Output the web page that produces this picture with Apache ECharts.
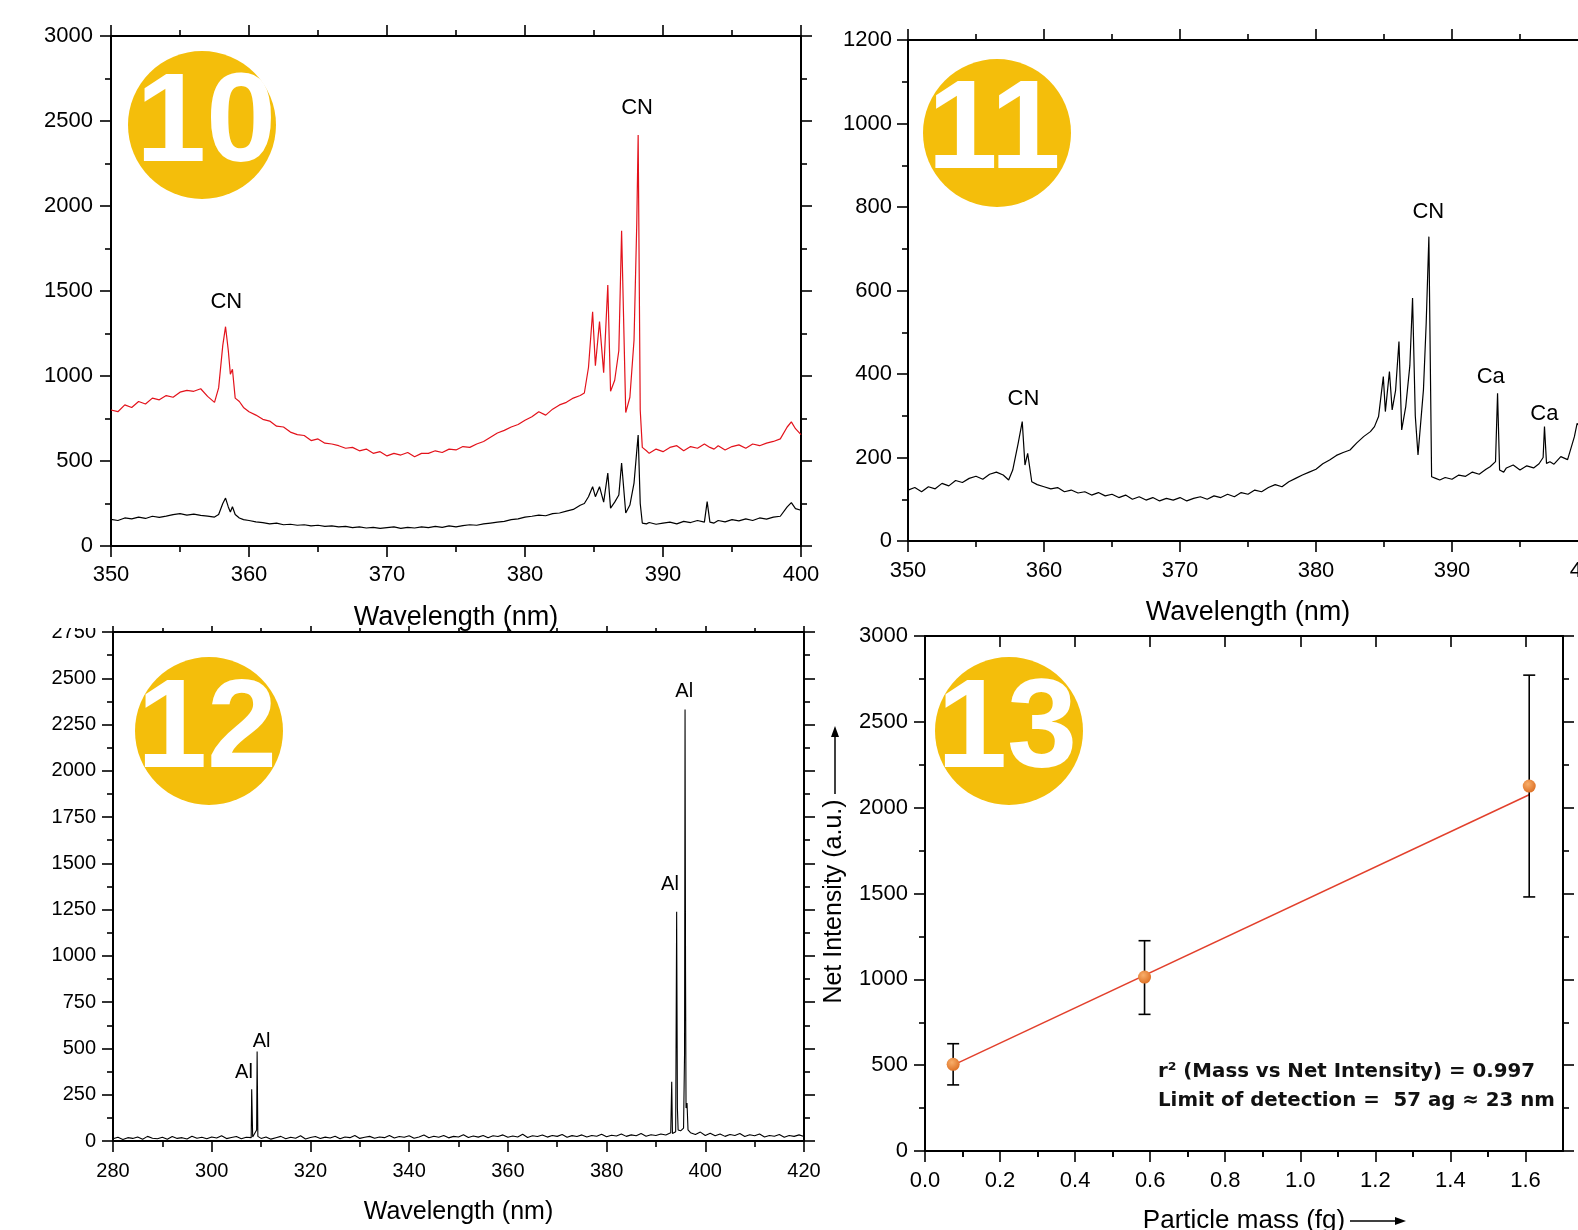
<!DOCTYPE html>
<html><head><meta charset="utf-8">
<script src="https://cdn.jsdelivr.net/npm/echarts@6/dist/echarts.min.js"></script>
<style>html,body{margin:0;padding:0;background:#fff}#c{width:1578px;height:1230px}</style>
</head><body><div id="c"></div>
<script>
// ---------- Panel 10: two spectra (red / black) ----------
const wl10 = [350,350.5,351,351.5,352,352.5,353,353.5,354,354.5,355,355.5,356,356.5,357,357.5,
  357.8,358.1,358.3,358.5,358.65,358.8,359,359.3,359.6,
  360,360.5,361,361.5,362,362.5,363,363.5,364,364.5,365,365.5,366,366.5,367,367.5,368,368.5,369,369.5,
  370,370.5,371,371.5,372,372.5,373,373.5,374,374.5,375,375.5,376,376.5,377,377.5,378,378.5,379,379.5,
  380,380.5,381,381.5,382,382.5,383,383.5,384,
  384.3,384.6,384.9,385.1,385.4,385.7,386,386.2,386.5,386.8,387,387.3,387.6,387.9,388.1,388.2,388.35,388.5,388.8,
  389,389.5,390,390.5,391,391.5,392,392.5,393,393.2,393.4,393.7,394,394.5,395,395.5,396,396.5,397,397.5,398,398.5,399,399.3,399.6,400];
const red10 = [800,790,830,815,850,835,870,860,885,875,905,915,910,925,880,845,
  930,1180,1290,1150,1010,1040,870,850,815,
  790,770,745,735,705,700,670,655,650,620,630,605,600,590,575,580,560,570,545,555,
  530,545,535,550,525,545,545,560,550,570,565,585,580,600,615,640,665,680,700,715,
  740,760,790,770,805,830,845,870,885,
  900,1050,1378,1060,1320,1020,1535,910,975,1150,1855,785,875,1210,1900,2418,800,580,560,
  545,570,555,580,590,560,585,575,600,590,580,570,590,565,585,595,575,600,590,605,615,630,700,730,690,655];
const black10 = [157,150,165,160,170,162,175,168,176,185,190,182,188,180,176,170,
  185,250,282,230,200,231,185,165,155,
  150,142,138,130,135,125,128,122,125,118,122,115,118,112,115,108,112,106,110,104,
  108,112,104,110,106,112,108,115,110,118,112,120,125,122,130,135,140,145,155,160,
  170,175,182,178,190,194,205,215,240,
  250,290,349,290,349,258,429,223,258,300,488,194,241,370,560,653,250,135,130,
  138,128,135,140,130,145,138,150,140,261,140,135,150,142,155,148,160,150,165,158,170,175,230,255,220,210];
const labelText10 = ['CN','CN'];
const labelWl10 = [358.36, 388.12];
const labelInt10 = [1435, 2574];

// ---------- Panel 11 ----------
const wl11 = [350,350.5,351,351.5,352,352.5,353,353.5,354,354.5,355,355.5,356,356.5,357,
  357.4,357.7,358.1,358.4,358.6,358.8,359.1,359.5,
  360,360.5,361,361.5,362,362.5,363,363.5,364,364.5,365,365.5,366,366.5,367,367.5,368,368.5,369,369.5,
  370,370.5,371,371.5,372,372.5,373,373.5,374,374.5,375,375.5,376,376.5,377,377.5,378,378.5,379,379.5,
  380,380.5,381,381.5,382,382.5,383,383.5,384,
  384.3,384.6,384.95,385.1,385.4,385.6,385.85,386.1,386.3,386.6,386.9,387.1,387.3,387.5,387.9,388.1,388.3,388.5,388.8,
  389.1,389.5,390,390.5,391,391.5,392,392.5,392.8,393.2,393.35,393.5,393.8,394,394.5,395,395.5,396,396.4,396.7,396.8,396.95,397.2,397.5,398,398.5,399,399.2,399.5,400];
const int11 = [122,128,118,130,125,138,132,145,140,150,155,148,160,165,158,
  146,170,234,286,182,210,142,135,
  130,125,128,118,122,115,118,110,116,108,112,104,110,100,106,98,104,96,102,98,
  104,96,102,106,100,108,104,112,106,116,112,122,118,128,135,130,142,150,158,165,
  172,185,194,205,212,218,235,250,262,
  274,298,394,310,406,314,360,478,266,322,420,582,300,206,362,520,729,154,150,
  146,152,148,158,155,165,160,172,178,190,354,170,165,175,182,170,180,175,185,200,274,186,190,184,202,195,250,282,270,290];
const labelText11 = ['CN','CN','Ca','Ca'];
const labelWl11 = [358.49, 388.26, 392.85, 396.79];
const labelInt11 = [341, 789, 392, 304];

// ---------- Panel 12 ----------
const wl12 = [280,281,282,283,284,285,286,287,288,289,290,291,292,293,294,295,296,297,298,299,300,301,302,303,304,305,306,307,
  308,308.1,308.3,308.7,309.1,309.2,309.35,
  310,311,312,313,314,315,316,317,318,319,320,321,322,323,324,325,326,327,328,329,
  330,331,332,333,334,335,336,337,338,339,340,341,342,343,344,345,346,347,348,349,
  350,351,352,353,354,355,356,357,358,359,360,361,362,363,364,365,366,367,368,369,
  370,371,372,373,374,375,376,377,378,379,380,381,382,383,384,385,386,387,388,389,
  390,391,392,393,
  393.2,393.35,394,394.2,394.35,394.5,395,395.6,395.8,395.9,396,396.1,396.3,396.5,
  397,398,399,400,401,402,403,404,405,406,407,408,409,410,411,412,413,414,415,416,417,418,419,420];
const int12 = [12,20,8,18,14,22,10,25,15,12,20,9,24,14,18,11,26,15,20,12,22,16,28,13,19,24,12,20,
  18,279,22,30,60,483,25,
  14,22,10,18,25,12,20,15,28,11,19,24,13,21,16,26,12,22,18,30,
  14,20,25,15,22,18,30,16,24,20,28,15,22,32,18,26,20,30,17,25,
  22,34,19,27,21,30,18,28,24,33,20,27,22,36,19,28,24,32,21,30,
  25,35,20,29,24,33,22,30,26,36,23,31,27,38,25,33,28,40,26,34,
  30,38,32,45,
  320,40,50,1238,178,60,55,70,475,2331,914,178,205,60,
  45,35,48,30,42,28,38,25,35,30,40,24,34,28,38,22,30,26,35,20,30,25,33,24];
const labelText12 = ['Al','Al','Al','Al'];
const labelWl12 = [306.54, 310.12, 392.84, 395.74];
const labelInt12 = [369, 536, 1388, 2426];

// ---------- Panel 13 ----------
const mass13 = [0.075, 0.585, 1.61];
const net13 = [505, 1013, 2126];
const errLow13 = [385, 796, 1480];
const errHigh13 = [625, 1225, 2772];
const fitMass13 = [0.075, 1.61];
const fitNet13 = [500, 2075];
const xMajor13 = [0, 0.2, 0.4, 0.6, 0.8, 1.0, 1.2, 1.4, 1.6];
const xMinor13 = [0.1, 0.3, 0.5, 0.7, 0.9, 1.1, 1.3, 1.5];
const noteLines13 = ['r\u00B2 (Mass vs Net Intensity) = 0.997', 'Limit of detection =  57 ag \u2248 23 nm'];
const badgeTexts = ['10', '11', '12', '13'];

// ---------- helpers ----------
const FONT = '"Liberation Sans", Arial, Helvetica, sans-serif';
const INK = '#000';
const zip = (a, b) => a.map((v, i) => [v, b[i]]);

function makeAxes(kind, g, o) {
  const isX = kind === 'x';
  const common = {
    type: 'value', gridIndex: g, min: o.min, max: o.max, interval: o.interval,
    splitLine: {show: false}, minorSplitLine: {show: false},
    axisLine: {show: true, onZero: false, lineStyle: {color: INK, width: 2}}
  };
  const tick = (inside, len) => Object.assign({show: true, inside: inside, length: len,
      lineStyle: {color: INK, width: 1.6}}, o.majorValues ? {customValues: o.majorValues} : {});
  const minor = (len) => o.noMinor ? {show: false} :
      {show: true, splitNumber: 2, length: len, lineStyle: {color: INK, width: 1.6}};
  const primary = Object.assign({}, common, {
    position: isX ? 'bottom' : 'left',
    axisTick: tick(false, o.tickLen || 11),
    minorTick: minor(o.minorLen || 6),
    axisLabel: Object.assign({show: true, margin: o.margin, color: INK, fontSize: o.fontSize,
      fontFamily: FONT, formatter: o.fmt || (v => String(v))},
      o.majorValues ? {customValues: o.majorValues} : {}),
    name: o.name || '', nameLocation: 'middle', nameGap: o.nameGap || 0,
    nameTextStyle: {fontSize: o.nameSize || 26, color: INK, fontFamily: FONT, padding: o.namePad || 0}
  });
  const mirror = Object.assign({}, common, {
    position: isX ? 'top' : 'right',
    axisTick: tick(!!o.mirrorInside, o.mirrorLen || o.tickLen || 11),
    minorTick: minor(o.mirrorMinorLen || o.minorLen || 6),
    axisLabel: {show: false}
  });
  return [primary, mirror];
}

function labelSeries(xi, texts, xs, ys, size) {
  return {
    type: 'custom', xAxisIndex: xi, yAxisIndex: xi, silent: true, z: 5,
    data: zip(xs, ys),
    renderItem: (params, api) => {
      const p = api.coord([api.value(0), api.value(1)]);
      return {type: 'text', x: p[0], y: p[1], style: {text: texts[params.dataIndex],
        fill: INK, fontSize: size, fontFamily: FONT, align: 'center', verticalAlign: 'middle'}};
    }
  };
}

const xAxes = [].concat(
  makeAxes('x', 0, {min: 350, max: 400, interval: 10, margin: 18, fontSize: 22,
    name: 'Wavelength (nm)', nameGap: 58, nameSize: 27}),
  makeAxes('x', 1, {min: 350, max: 400, interval: 10, margin: 19, fontSize: 22,
    name: 'Wavelength (nm)', nameGap: 58, nameSize: 27}),
  makeAxes('x', 2, {min: 280, max: 420, interval: 20, margin: 20, fontSize: 20,
    name: 'Wavelength (nm)', nameGap: 59, nameSize: 25, mirrorLen: 6, mirrorMinorLen: 4}),
  makeAxes('x', 3, {min: 0, max: 1.7, interval: 0.2, margin: 19, fontSize: 22,
    name: 'Particle mass (fg)', nameGap: 57, nameSize: 26, majorValues: xMajor13, noMinor: true,
    mirrorInside: true, fmt: v => v.toFixed(1)}),
  [
    {type: 'value', gridIndex: 3, min: 0, max: 1.7, position: 'bottom', axisLine: {show: false},
     axisLabel: {show: false}, splitLine: {show: false},
     axisTick: {show: true, length: 6, customValues: xMinor13, lineStyle: {color: INK, width: 1.6}}},
    {type: 'value', gridIndex: 3, min: 0, max: 1.7, position: 'top', axisLine: {show: false},
     axisLabel: {show: false}, splitLine: {show: false},
     axisTick: {show: true, inside: true, length: 6, customValues: xMinor13, lineStyle: {color: INK, width: 1.6}}}
  ]
);
const yAxes = [].concat(
  makeAxes('y', 0, {min: 0, max: 3000, interval: 500, margin: 18, fontSize: 22}),
  makeAxes('y', 1, {min: 0, max: 1200, interval: 200, margin: 16, fontSize: 22}),
  makeAxes('y', 2, {min: 0, max: 2750, interval: 250, margin: 17, fontSize: 20}),
  makeAxes('y', 3, {min: 0, max: 3000, interval: 500, margin: 17, fontSize: 22,
    name: 'Net Intensity (a.u.)', nameGap: 78, nameSize: 25, namePad: [0, 16, 0, 0]})
);

const lineBase = {type: 'line', showSymbol: false, symbol: 'none', animation: false, silent: true};

const series = [
  Object.assign({}, lineBase, {xAxisIndex: 0, yAxisIndex: 0, data: zip(wl10, black10),
    lineStyle: {color: '#000', width: 1.2}}),
  Object.assign({}, lineBase, {xAxisIndex: 0, yAxisIndex: 0, data: zip(wl10, red10),
    lineStyle: {color: '#E3121B', width: 1.2}}),
  labelSeries(0, labelText10, labelWl10, labelInt10, 22),
  Object.assign({}, lineBase, {xAxisIndex: 2, yAxisIndex: 2, data: zip(wl11, int11),
    lineStyle: {color: '#000', width: 1.2}}),
  labelSeries(2, labelText11, labelWl11, labelInt11, 22),
  Object.assign({}, lineBase, {xAxisIndex: 4, yAxisIndex: 4, data: zip(wl12, int12),
    lineStyle: {color: '#000', width: 1.1}}),
  labelSeries(4, labelText12, labelWl12, labelInt12, 20),
  Object.assign({}, lineBase, {xAxisIndex: 6, yAxisIndex: 6, data: zip(fitMass13, fitNet13),
    lineStyle: {color: '#E2402C', width: 1.5}}),
  {
    type: 'custom', xAxisIndex: 6, yAxisIndex: 6, silent: true, z: 4,
    data: mass13.map((m, i) => [m, errLow13[i], errHigh13[i]]),
    encode: {x: 0, y: [1, 2]},
    renderItem: (params, api) => {
      const lo = api.coord([api.value(0), api.value(1)]);
      const hi = api.coord([api.value(0), api.value(2)]);
      const w = 6, st = {stroke: '#000', lineWidth: 1.6};
      return {type: 'group', children: [
        {type: 'line', shape: {x1: lo[0], y1: lo[1], x2: hi[0], y2: hi[1]}, style: st},
        {type: 'line', shape: {x1: lo[0] - w, y1: lo[1], x2: lo[0] + w, y2: lo[1]}, style: st},
        {type: 'line', shape: {x1: hi[0] - w, y1: hi[1], x2: hi[0] + w, y2: hi[1]}, style: st}
      ]};
    }
  },
  {
    type: 'scatter', xAxisIndex: 6, yAxisIndex: 6, silent: true, z: 6, symbolSize: 13,
    data: zip(mass13, net13),
    itemStyle: {opacity: 1, color: {type: 'radial', x: 0.4, y: 0.35, r: 0.7,
      colorStops: [{offset: 0, color: '#F8AE6A'}, {offset: 1, color: '#DC6E22'}]}}
  }
];

const badgePos = [[202, 125, 206, 126], [997, 133, 994, 133], [209, 731, 207, 732], [1009, 731, 1007, 732]];
const graphic = [
  {type: 'rect', shape: {x: 20, y: 590, width: 88, height: 38}, style: {fill: '#fff'}, z: 100}
];
badgeTexts.forEach((t, i) => {
  const b = badgePos[i];
  graphic.push({type: 'circle', shape: {cx: b[0], cy: b[1], r: 74}, style: {fill: '#F4BE0B'}, z: 50});
  graphic.push({type: 'text', x: b[2], y: b[3], z: 51, style: {text: t, fill: '#fff', fontSize: 126,
    fontWeight: 'bold', fontFamily: FONT, align: 'center', verticalAlign: 'middle'}});
});
noteLines13.forEach((t, i) => {
  graphic.push({type: 'text', x: 1158, y: 1072 + i * 29, z: 20, style: {text: t, fill: '#111',
    fontSize: 19.8, fontWeight: 'bold', fontFamily: '"DejaVu Sans", Verdana, sans-serif',
    align: 'left', verticalAlign: 'middle'}});
});
// axis-title arrows of panel 13
graphic.push({type: 'line', shape: {x1: 835, y1: 794, x2: 835, y2: 734}, style: {stroke: '#000', lineWidth: 1.5}, z: 20});
graphic.push({type: 'polygon', shape: {points: [[835, 726], [831, 737], [839, 737]]}, style: {fill: '#000'}, z: 20});
graphic.push({type: 'line', shape: {x1: 1350, y1: 1221, x2: 1398, y2: 1221}, style: {stroke: '#000', lineWidth: 1.5}, z: 20});
graphic.push({type: 'polygon', shape: {points: [[1406, 1221], [1395, 1217], [1395, 1225]]}, style: {fill: '#000'}, z: 20});

const chart = echarts.init(document.getElementById('c'), null, {renderer: 'canvas'});
const gridBase = {containLabel: false, outerBoundsMode: 'none'};
chart.setOption({
  animation: false,
  backgroundColor: '#fff',
  textStyle: {fontFamily: FONT},
  grid: [
    Object.assign({left: 111, top: 36, width: 690, height: 510}, gridBase),
    Object.assign({left: 908, top: 40, width: 680, height: 501}, gridBase),
    Object.assign({left: 113, top: 632, width: 691, height: 509}, gridBase),
    Object.assign({left: 925, top: 636, width: 638, height: 515}, gridBase)
  ],
  xAxis: xAxes,
  yAxis: yAxes,
  series: series,
  graphic: graphic
});
</script></body></html>
